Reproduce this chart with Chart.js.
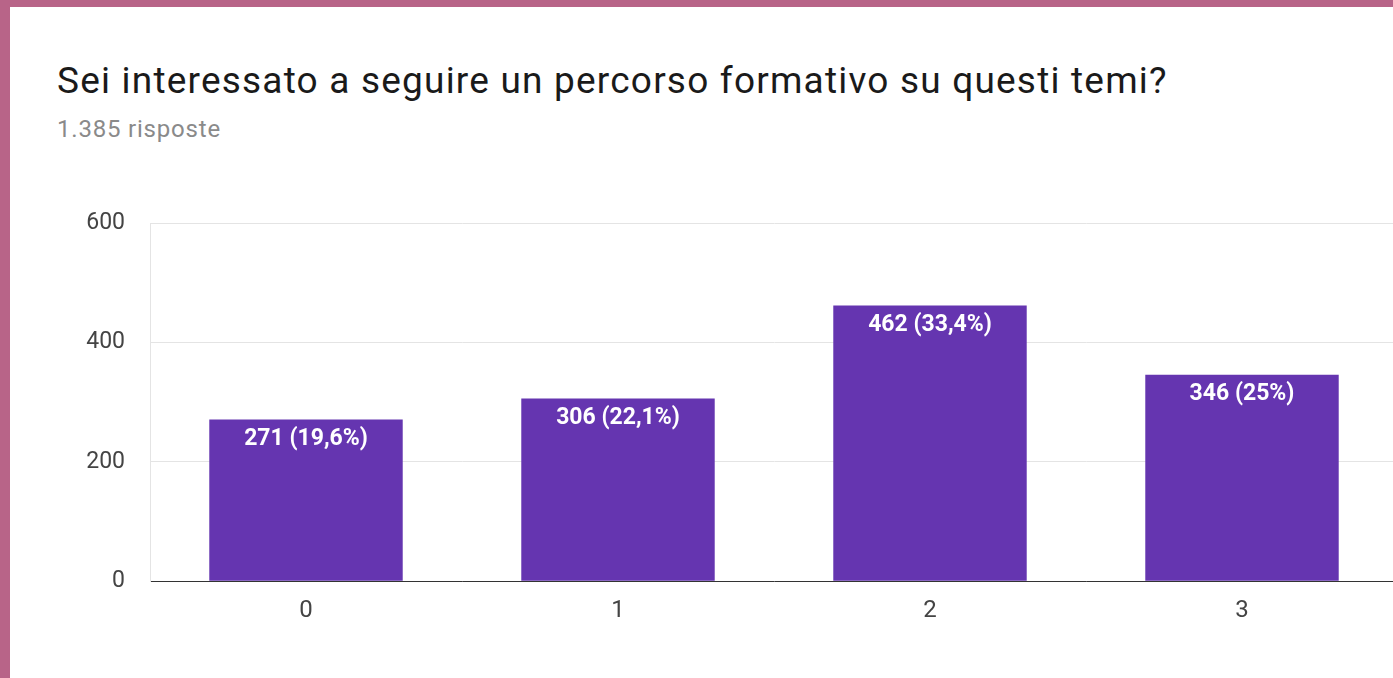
<!DOCTYPE html>
<html>
<head>
<meta charset="utf-8">
<script src="https://cdn.jsdelivr.net/npm/chart.js@4"></script>
<style>
  html, body { margin: 0; padding: 0; }
  body { width: 1393px; height: 678px; overflow: hidden; background: #b86488; position: relative; font-family: Roboto, Arial, sans-serif; }
  #card { position: absolute; left: 10px; top: 7px; right: 0; bottom: 0; background: #fff; overflow: hidden; }
  #title { position: absolute; left: 47px; top: 55px; font-size: 37px; line-height: 1; letter-spacing: 1.2px; color: #1a1a1a; white-space: nowrap; }
  #sub { position: absolute; left: 47px; top: 110px; font-size: 24px; line-height: 1; letter-spacing: 0.8px; color: #8a8a8a; }
  #wrap { position: absolute; left: -10px; top: -7px; width: 1420px; height: 678px; }
</style>
</head>
<body>
<div id="card">
  <div id="title">Sei interessato a seguire un percorso formativo su questi temi?</div>
  <div id="sub">1.385 risposte</div>
  <div id="wrap"><canvas id="chart"></canvas></div>
</div>
<script>
// answers 0..3
const categories = ['0', '1', '2', '3'];
const counts = [271, 306, 462, 346];
const percents = ['19,6%', '22,1%', '33,4%', '25%'];
const yTicks = [0, 200, 400, 600];

// white "n (x%)" labels at the top of each bar
const barLabels = {
    id: 'barLabels',
    afterDatasetsDraw(chart) {
        const ctx = chart.ctx;
        const meta = chart.getDatasetMeta(0);
        ctx.save();
        ctx.fillStyle = '#ffffff';
        ctx.font = 'bold 23px Roboto, Arial, sans-serif';
        ctx.textAlign = 'center';
        ctx.textBaseline = 'top';
        meta.data.forEach(function (bar, i) {
            ctx.fillText(counts[i] + ' (' + percents[i] + ')', bar.x, bar.y + 8);
        });
        ctx.restore();
    }
};

const ctx = document.getElementById('chart').getContext('2d');
new Chart(ctx, {
    type: 'bar',
    data: {
        labels: categories,
        datasets: [{
            data: counts,
            backgroundColor: '#6535b0',
            categoryPercentage: 1,
            barPercentage: 0.62,
        }],
    },
    options: {
        responsive: true,
        maintainAspectRatio: false,
        animation: false,
        layout: { padding: { left: 10, top: 223, right: 22, bottom: 38 } },
        plugins: {
            legend: { display: false },
            tooltip: { enabled: false },
        },
        scales: {
            x: {
                grid: { display: false, drawTicks: false },
                border: { color: '#333333', width: 1 },
                ticks: { color: '#444', padding: 15, font: { size: 24, family: 'Roboto, Arial, sans-serif' } },
            },
            y: {
                min: 0,
                max: 600,
                afterFit: function (scale) { scale.width = 140; },
                afterBuildTicks: function (scale) { scale.ticks = yTicks.map(v => ({ value: v })); },
                grid: { color: '#e4e4e4', drawTicks: false },
                border: { color: '#e4e4e4' },
                ticks: { color: '#444', padding: 25, font: { size: 23, family: 'Roboto, Arial, sans-serif' } },
            },
        },
    },
    plugins: [barLabels],
});
</script>
</body>
</html>
